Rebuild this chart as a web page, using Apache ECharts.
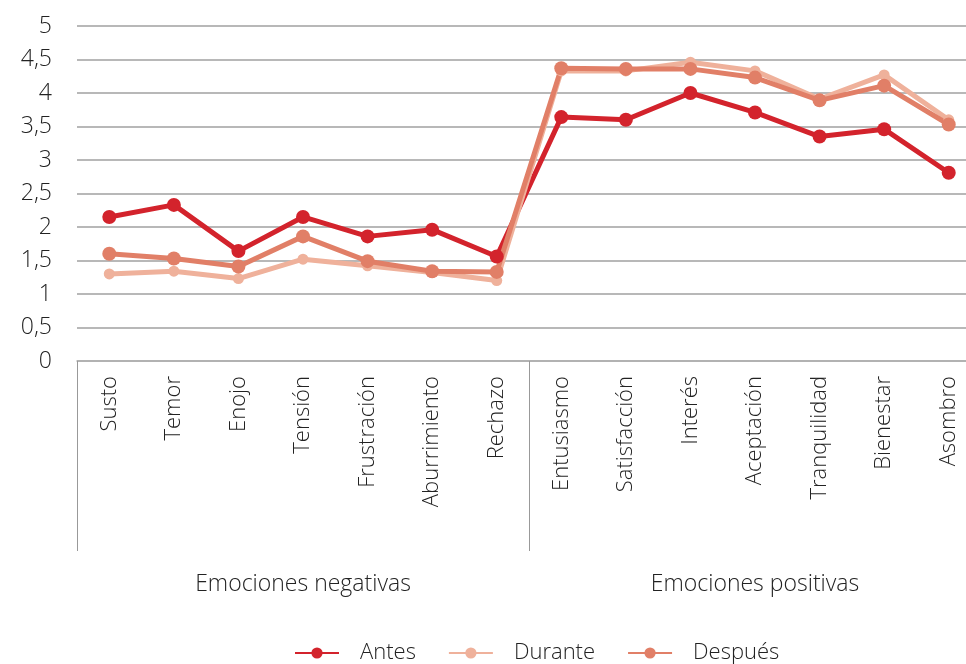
<!DOCTYPE html>
<html>
<head>
<meta charset="utf-8">
<style>
  html, body { margin: 0; padding: 0; background: #fff; overflow: hidden; }
  /* el grafico original sale recortado por la derecha */
  #chart { width: 990px; height: 664px; }
</style>
<script src="https://cdn.jsdelivr.net/npm/echarts@6/dist/echarts.min.js"></script>
</head>
<body>
<div id="chart"></div>
<script>
// categorias
var emociones = ['Susto', 'Temor', 'Enojo', 'Tensión', 'Frustración', 'Aburrimiento', 'Rechazo',
  'Entusiasmo', 'Satisfacción', 'Interés', 'Aceptación', 'Tranquilidad', 'Bienestar', 'Asombro'];
var grupos = ['Emociones negativas', 'Emociones positivas'];
// valores
var antes   = [2.15, 2.33, 1.64, 2.15, 1.86, 1.96, 1.56, 3.64, 3.60, 4.00, 3.71, 3.35, 3.46, 2.81];
var durante = [1.30, 1.34, 1.23, 1.52, 1.42, 1.32, 1.20, 4.33, 4.33, 4.46, 4.33, 3.91, 4.27, 3.60];
var despues = [1.60, 1.53, 1.41, 1.86, 1.49, 1.34, 1.33, 4.37, 4.36, 4.36, 4.23, 3.89, 4.11, 3.53];

var fuente = 'Open Sans';
var chart = echarts.init(document.getElementById('chart'));

function serie(nombre, datos, color, size) {
  return {
    name: nombre,
    type: 'line',
    data: datos,
    symbol: 'circle',
    symbolSize: size,
    lineStyle: { width: 5, color: color },
    itemStyle: { color: color },
    emphasis: { disabled: true },
    z: 3
  };
}

var option = {
  animation: false,
  grid: { left: 77, top: 26, width: 904, height: 335 },
  legend: {
    left: 289,
    top: 637,
    itemWidth: 44,
    itemHeight: 14,
    itemGap: 32,
    textStyle: { fontFamily: fuente, fontWeight: 300, fontSize: 22, color: '#222', padding: [0, 0, 0, 16] },
    data: ['Antes', 'Durante', 'Después']
  },
  xAxis: [
    {
      type: 'category',
      data: emociones,
      axisLine: { lineStyle: { color: '#b0b0b0', width: 1.5 } },
      axisTick: {
        show: true,
        length: 190,
        interval: function (i) { return i === 0 || i === 7; },
        lineStyle: { color: '#999', width: 1 }
      },
      axisLabel: {
        rotate: 90,
        interval: 0,
        margin: 15,
        fontFamily: fuente,
        fontWeight: 300,
        fontSize: 22,
        color: '#222'
      }
    },
    {
      type: 'category',
      data: grupos,
      position: 'bottom',
      offset: 200,
      axisLine: { show: false },
      axisTick: { show: false },
      axisLabel: { margin: 12, fontFamily: fuente, fontWeight: 300, fontSize: 23, color: '#222' }
    }
  ],
  yAxis: {
    type: 'value',
    min: 0,
    max: 5,
    interval: 0.5,
    axisLine: { show: false },
    axisTick: { show: false },
    splitLine: { lineStyle: { color: '#a0a0a0', width: 1.5 } },
    axisLabel: {
      margin: 25,
      fontFamily: fuente,
      fontWeight: 300,
      fontSize: 23,
      color: '#222',
      formatter: function (v) { return String(v).replace('.', ','); }
    }
  },
  series: [
    serie('Antes', antes, '#d3232c', 14),
    serie('Durante', durante, '#efb19b', 11),
    serie('Después', despues, '#e17f67', 14)
  ]
};
chart.setOption(option);
</script>
</body>
</html>
